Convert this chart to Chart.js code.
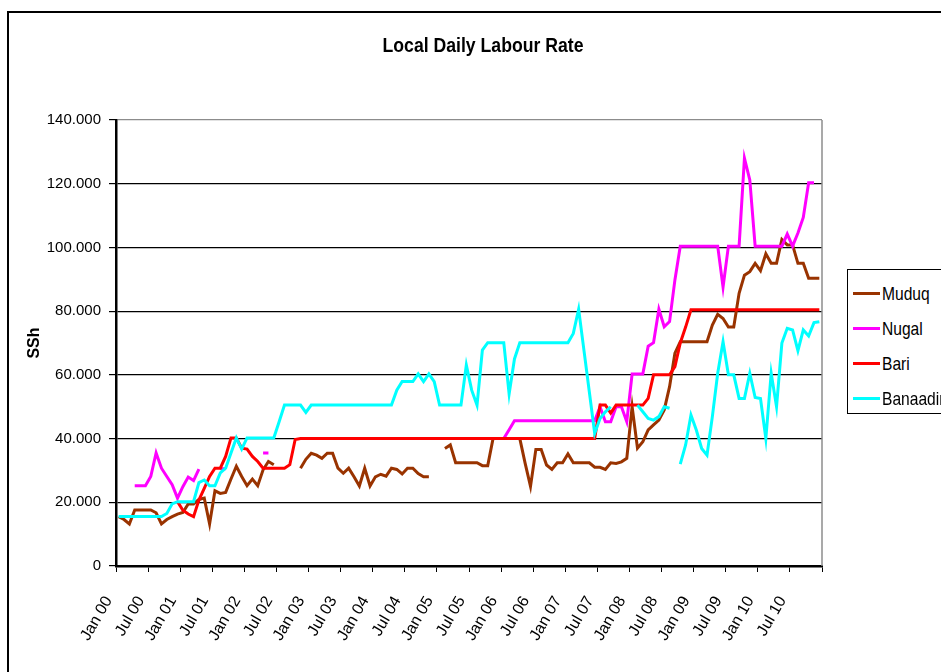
<!DOCTYPE html>
<html lang="en">
<head>
<meta charset="utf-8">
<title>Local Daily Labour Rate</title>
<script src="https://cdn.jsdelivr.net/npm/chart.js@4.4.1/dist/chart.umd.min.js"></script>
<style>
  html, body { margin: 0; padding: 0; background: #fff; overflow: hidden; }
  #wrap { position: relative; width: 941px; height: 672px; overflow: hidden; }
  #chart { position: absolute; left: 0; top: 0; }
  #frame { position: absolute; left: 7px; top: 11px; width: 1000px; height: 700px; border: 2px solid #000; box-sizing: border-box; pointer-events: none; }
  /* no narrow face installed, so squeeze the html text a little */
  #title { position: absolute; left: 0; top: 33px; width: 966px; text-align: center; transform: scaleX(0.84);
           font: bold 21px 'Liberation Sans', Arial, sans-serif; line-height: 24px; }
  #legend { position: absolute; left: 847px; top: 269px; width: 130px; height: 145px; border: 1px solid #000;
            box-sizing: border-box; padding-top: 5px; background: #fff;
            font: 19px 'Liberation Sans', Arial, sans-serif; }
  #legend div { height: 35px; line-height: 35px; white-space: nowrap; padding-left: 5px; }
  #legend .sw { display: inline-block; width: 27px; height: 3px; vertical-align: middle; margin-right: 2px; }
  #legend .txt { display: inline-block; vertical-align: middle; transform: scaleX(0.82); transform-origin: left center; }
</style>
</head>
<body>
<div id="wrap">
  <canvas id="chart" width="941" height="672"></canvas>
  <div id="title">Local Daily Labour Rate</div>
  <div id="legend"></div>
  <div id="frame"></div>
</div>
<script>
  // monthly data Jan 2000 - Dec 2010 (null = no data)
  const monthNames = ['Jan', 'Feb', 'Mar', 'Apr', 'May', 'Jun', 'Jul', 'Aug', 'Sep', 'Oct', 'Nov', 'Dec'];
  const months = [];
  for (let y = 0; y <= 10; y++) {
    monthNames.forEach(m => months.push(m + ' ' + String(y).padStart(2, '0')));
  }
  const tickLabels = ['Jan 00', 'Jul 00', 'Jan 01', 'Jul 01', 'Jan 02', 'Jul 02', 'Jan 03', 'Jul 03', 'Jan 04', 'Jul 04',
    'Jan 05', 'Jul 05', 'Jan 06', 'Jul 06', 'Jan 07', 'Jul 07', 'Jan 08', 'Jul 08', 'Jan 09', 'Jul 09', 'Jan 10', 'Jul 10'];

  const muduq = [
    15.5, 14.6, 13.2, 17.6, 17.6, 17.6, 17.6, 16.7, 13.2, 14.6, 15.5, 16.3,
    16.8, 19.5, 19.5, 20.9, 21.3, 13.2, 23.6, 22.8, 23.1, 27.3, 31.3, 28.1,
    25.2, 27.3, 25.2, 30.2, 32.8, 31.8, null, null, null, null, 30.7, 33.5,
    35.4, 34.8, 33.8, 35.4, 35.4, 30.7, 29.1, 30.7, 28, 25.1, 30.7, 25.1,
    28, 28.8, 28.2, 30.7, 30.3, 28.9, 30.7, 30.7, 29, 28, 28, null,
    null, 36.9, 38, 32.4, 32.4, 32.4, 32.4, 32.4, 31.5, 31.5, 40, 40,
    40, 40, 40, 40, 32.2, 25, 36.6, 36.6, 31.7, 30.3, 32.4, 32.4,
    35.2, 32.4, 32.4, 32.4, 32.4, 31, 31, 30.3, 32.4, 32.2, 32.7, 33.8,
    50, 37, 39, 42.7, 44.3, 45.8, 49, 56.3, 66.8, 70.4, 70.4, 70.4,
    70.4, 70.4, 70.4, 75.6, 79, 77.7, 75, 75, 85.6, 91.3, 92.4, 95,
    92.7, 98, 95, 95, 102.5, 100.8, 100.8, 95, 95, 90.3, 90.3, 90.3
  ];
  const nugal = [
    null, null, null, 25.2, 25.2, 25.2, 28.1, 35.5, 30.7, 28.1, 25.5, 21.3,
    24.9, 27.9, 26.8, 30.4, null, null, null, 30.5, 30.5, null, null, null,
    null, null, null, 35.5, 35.5, null, null, null, null, null, 40, 40,
    40, 40, 40, 40, 40, 40, 40, 40, 40, 40, 40, 40,
    40, 40, 40, 40, 40, 40, 40, 40, 40, 40, 40, 40,
    40, 40, 40, 40, 40, 40, 40, 40, 40, 40, 40, 40,
    40, 42.8, 45.6, 45.6, 45.6, 45.6, 45.6, 45.6, 45.6, 45.6, 45.6, 45.6,
    45.6, 45.6, 45.6, 45.6, 45.6, 45.6, 50, 45.3, 45.3, 50, 50, 45.3,
    60.3, 60.3, 60.3, 69, 70.1, 80.6, 75.1, 76.7, 89.8, 100.4, 100.4, 100.4,
    100.4, 100.4, 100.4, 100.4, 100.4, 87.5, 100.4, 100.4, 100.4, 128, 121.2, 100.4,
    100.4, 100.4, 100.4, 100.4, 100.4, 104.2, 100.4, 104.5, 109.4, 120.3, 120.3, null
  ];
  const bari = [
    null, null, null, null, null, null, null, null, null, null, null, 20.2,
    17.5, 16.3, 15.5, 20.7, 24.4, 28.1, 30.7, 30.7, 34.4, 40.2, 40.2, 37,
    36.7, 34.4, 32.8, 30.7, 30.7, 30.7, 30.7, 30.7, 31.8, 39.7, 40, 40,
    40, 40, 40, 40, 40, 40, 40, 40, 40, 40, 40, 40,
    40, 40, 40, 40, 40, 40, 40, 40, 40, 40, 40, 40,
    40, 40, 40, 40, 40, 40, 40, 40, 40, 40, 40, 40,
    40, 40, 40, 40, 40, 40, 40, 40, 40, 40, 40, 40,
    40, 40, 40, 40, 40, 40, 50.5, 50.5, 48, 50.5, 50.5, 50.5,
    50.5, 50.5, 50.5, 52.6, 60, 60, 60, 60, 62.6, 70, 75, 80.4,
    80.4, 80.4, 80.4, 80.4, 80.4, 80.4, 80.4, 80.4, 80.4, 80.4, 80.4, 80.4,
    80.4, 80.4, 80.4, 80.4, 80.4, 80.4, 80.4, 80.4, 80.4, 80.4, 80.4, 80.4
  ];
  const banaadir = [
    15.5, 15.5, 15.5, 15.5, 15.5, 15.5, 15.5, 15.5, 15.5, 16.5, 19.5, 20.2,
    20.2, 20.2, 20.2, 26.2, 27, 25.2, 25.2, 29.2, 30.7, 35.5, 40.2, 36.7,
    40.2, 40.2, 40.2, 40.2, 40.2, 40.2, 45.3, 50.5, 50.5, 50.5, 50.5, 48.2,
    50.5, 50.5, 50.5, 50.5, 50.5, 50.5, 50.5, 50.5, 50.5, 50.5, 50.5, 50.5,
    50.5, 50.5, 50.5, 50.5, 55.2, 57.9, 57.9, 57.9, 60.3, 57.9, 60.3, 57.9,
    50.5, 50.5, 50.5, 50.5, 50.5, 63.1, 55.2, 50.5, 67.8, 70.1, 70.1, 70.1,
    70.1, 54, 65, 70.1, 70.1, 70.1, 70.1, 70.1, 70.1, 70.1, 70.1, 70.1,
    70.1, 73, 80.6, 67.6, 54.6, 41.6, 46.3, 48.4, 50, null, null, null,
    null, 50.5, 48.4, 46.3, 45.8, 46.9, 50, 49.5, null, 32, 38, 47.4,
    42.7, 36.9, 34.8, 46.9, 60.5, 70.4, 60, 60, 52.6, 52.6, 60.5, 52.9,
    52.6, 40, 60.5, 50, 70, 74.6, 74.1, 67.6, 74.1, 72.2, 76.4, 76.7
  ];

  const sans = "'Liberation Sans', Arial, sans-serif";

  // gray frame on the right side of the plot area
  const plotFrame = {
    id: 'plotFrame',
    beforeDatasetsDraw(chart) {
      const { ctx, chartArea: a } = chart;
      ctx.save();
      ctx.strokeStyle = '#8c8c8c';
      ctx.lineWidth = 1.5;
      ctx.beginPath();
      ctx.moveTo(a.right, a.top);
      ctx.lineTo(a.right, a.bottom);
      ctx.stroke();
      ctx.restore();
    }
  };

  const lineDataset = (label, data, color, order) => ({
    label: label,
    data: data,
    borderColor: color,
    backgroundColor: color,
    borderWidth: 3,
    pointRadius: 0,
    tension: 0,
    spanGaps: false,
    order: order, // excel draws the last series on top
  });

  const chartData = {
    labels: months,
    datasets: [
      lineDataset('Muduq', muduq, '#993300', 3),
      lineDataset('Nugal', nugal, '#ff00ff', 2),
      lineDataset('Bari', bari, '#ff0000', 1),
      lineDataset('Banaadir', banaadir, '#00ffff', 0),
    ]
  };

  const config = {
    type: 'line',
    data: chartData,
    plugins: [plotFrame],
    options: {
      responsive: false,
      animation: false,
      layout: { padding: { top: 120, right: 119, bottom: 0, left: 0 } },
      plugins: {
        legend: { display: false },
        title: { display: false },
        tooltip: { enabled: false },
      },
      scales: {
        x: {
          offset: true,
          afterFit: s => { s.height = 106; },
          border: { color: '#000', width: 2.5 },
          grid: {
            offset: true,
            drawOnChartArea: false,
            tickLength: 6,
            lineWidth: 1,
            color: c => (c.type !== 'tick' || c.index % 6 === 0) ? '#000' : 'rgba(0,0,0,0)',
          },
          ticks: {
            autoSkip: false,
            maxRotation: 60,
            minRotation: 60,
            labelOffset: -10,
            padding: 21,
            color: '#000',
            font: { family: sans, size: 16 },
            callback: (v, i) => i % 6 === 0 ? tickLabels[i / 6] : '',
          },
        },
        y: {
          min: 0,
          max: 140,
          afterFit: s => { s.width = 116; },
          border: { color: '#000', width: 2.5 },
          grid: {
            color: c => c.tick && c.tick.value === 140 ? '#8c8c8c' : '#000',
            tickColor: '#000',
            lineWidth: 1.2,
            tickLength: 7,
          },
          ticks: {
            stepSize: 20,
            padding: 8,
            color: '#000',
            font: { family: sans, size: 15 },
            callback: v => v === 0 ? '0' : v.toFixed(3),
          },
          title: {
            display: true,
            text: 'SSh',
            color: '#000',
            padding: { top: 25 },
            font: { family: sans, size: 16, weight: 'bold' },
          },
        }
      }
    }
  };

  const chart = new Chart(document.getElementById('chart').getContext('2d'), config);

  // legend in a boxed panel, same order as the series
  const legendBox = document.getElementById('legend');
  chartData.datasets.forEach(ds => {
    const row = document.createElement('div');
    const sw = document.createElement('span');
    sw.className = 'sw';
    sw.style.background = ds.borderColor;
    const txt = document.createElement('span');
    txt.className = 'txt';
    txt.textContent = ds.label;
    row.appendChild(sw);
    row.appendChild(txt);
    legendBox.appendChild(row);
  });
</script>
</body>
</html>
